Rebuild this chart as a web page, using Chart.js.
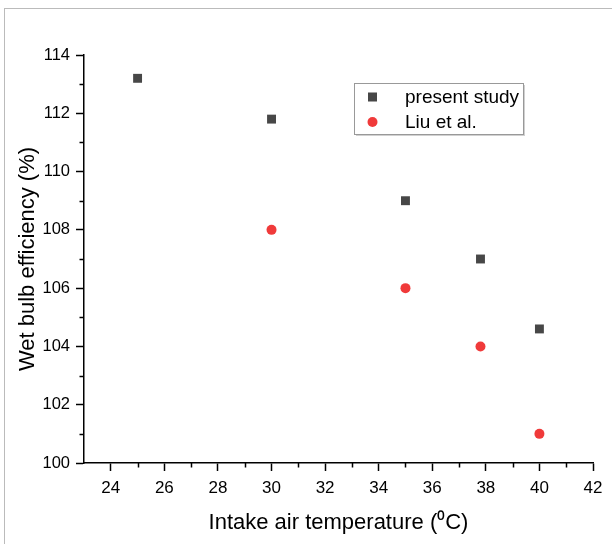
<!DOCTYPE html>
<html>
<head>
<meta charset="utf-8">
<script src="https://cdn.jsdelivr.net/npm/chart.js@4.4.0/dist/chart.umd.min.js"></script>
<style>
  html, body { margin: 0; padding: 0; background: #fff; }
  #wrap { position: relative; width: 612px; height: 544px; }
  #frame { position: absolute; left: 4px; top: 8px; right: 0; bottom: 0;
           border-left: 1px solid #bbb; border-top: 1px solid #bbb; }
</style>
</head>
<body>
<div id="wrap">
  <div id="frame"></div>
  <canvas id="chart" width="612" height="544"></canvas>
</div>
<script>
// ===== DATA =====
const presentX = [25, 30, 35, 37.8, 40];
const presentY = [113.2, 111.8, 109.0, 107.0, 104.6];
const liuX = [30, 35, 37.8, 40];
const liuY = [108.0, 106.0, 104.0, 101.0];

const xTicks = [24, 26, 28, 30, 32, 34, 36, 38, 40, 42];
const xMinor = [25, 27, 29, 31, 33, 35, 37, 39, 41];
const yTicks = [100, 102, 104, 106, 108, 110, 112, 114];
const yMinor = [101, 103, 105, 107, 109, 111, 113];

const FONT = 'Liberation Sans, Arial, sans-serif';

// ===== MINOR TICKS =====
const minorTicks = {
    id: 'minorTicks',
    afterDraw(chart) {
        const ctx = chart.ctx;
        const xs = chart.scales.x;
        const ys = chart.scales.y;
        ctx.save();
        ctx.strokeStyle = '#000';
        ctx.lineWidth = 1.5;
        ctx.beginPath();
        xMinor.forEach(v => {
            const px = Math.round(xs.getPixelForValue(v)) + 0.5;
            ctx.moveTo(px, ys.bottom);
            ctx.lineTo(px, ys.bottom + 4.5);
        });
        yMinor.forEach(v => {
            const py = Math.round(ys.getPixelForValue(v)) + 0.5;
            ctx.moveTo(xs.left, py);
            ctx.lineTo(xs.left - 4.5, py);
        });
        ctx.stroke();
        ctx.restore();
    }
};

// ===== BOXED LEGEND =====
const boxLegend = {
    id: 'boxLegend',
    afterDraw(chart) {
        const ctx = chart.ctx;
        const bx = 354, by = 83, bw = 169, bh = 51;
        ctx.save();
        // shadow
        ctx.fillStyle = '#d0d0d0';
        ctx.fillRect(bx + 2, by + 2, bw, bh);
        ctx.fillStyle = '#fff';
        ctx.fillRect(bx, by, bw, bh);
        ctx.strokeStyle = '#999';
        ctx.lineWidth = 1;
        ctx.strokeRect(bx + 0.5, by + 0.5, bw, bh);

        ctx.font = '19px ' + FONT;
        ctx.textBaseline = 'middle';
        chart.data.datasets.forEach((ds, i) => {
            const cy = by + 14 + i * 25;
            ctx.fillStyle = ds.backgroundColor;
            if (ds.pointStyle === 'rect') {
                ctx.fillRect(bx + 14, cy - 4.5, 9, 9);
            } else {
                ctx.beginPath();
                ctx.arc(bx + 18.5, cy, 5, 0, Math.PI * 2);
                ctx.fill();
            }
            ctx.fillStyle = '#000';
            ctx.fillText(ds.label, bx + 51, cy + 1);
        });
        ctx.restore();
    }
};

const ctx = document.getElementById('chart').getContext('2d');
new Chart(ctx, {
    type: 'scatter',
    data: {
        datasets: [
            {
                label: 'present study',
                data: presentX.map((x, i) => ({ x, y: presentY[i] })),
                backgroundColor: '#474747',
                borderColor: '#474747',
                pointStyle: 'rect',
                pointRadius: 6.3,
                pointBorderWidth: 0
            },
            {
                label: 'Liu et al.',
                data: liuX.map((x, i) => ({ x, y: liuY[i] })),
                backgroundColor: '#f03a3a',
                borderColor: '#f03a3a',
                pointStyle: 'circle',
                pointRadius: 5,
                pointBorderWidth: 0
            }
        ]
    },
    options: {
        responsive: false,
        animation: false,
        layout: { padding: { left: 0, top: 55, right: 19, bottom: 0 } },
        plugins: { legend: { display: false }, tooltip: { enabled: false } },
        scales: {
            x: {
                type: 'linear',
                min: 23,
                max: 42,
                afterBuildTicks: s => { s.ticks = xTicks.map(v => ({ value: v })); },
                afterFit: s => { s.height = 81; },
                border: { display: true, color: '#000', width: 1.5 },
                grid: { display: true, drawOnChartArea: false, drawTicks: true, tickLength: 8, tickColor: '#000', tickWidth: 1.5 },
                ticks: { color: '#000', font: { family: FONT, size: 17 }, padding: 7, maxRotation: 0 },
                title: { display: true, text: 'Intake air temperature (⁰C)', color: '#000', font: { family: FONT, size: 22 }, padding: { top: 0, bottom: 8 } }
            },
            y: {
                type: 'linear',
                min: 100,
                max: 114,
                afterBuildTicks: s => { s.ticks = yTicks.map(v => ({ value: v })); },
                afterFit: s => { s.width = 84; },
                border: { display: true, color: '#000', width: 1.5 },
                grid: { display: true, drawOnChartArea: false, drawTicks: true, tickLength: 8, tickColor: '#000', tickWidth: 1.5 },
                ticks: { color: '#000', font: { family: FONT, size: 16.5 }, padding: 6 },
                title: { display: true, text: 'Wet bulb efficiency (%)', color: '#000', font: { family: FONT, size: 22 }, padding: { top: 15, bottom: 0 } }
            }
        }
    },
    plugins: [minorTicks, boxLegend]
});
</script>
</body>
</html>
